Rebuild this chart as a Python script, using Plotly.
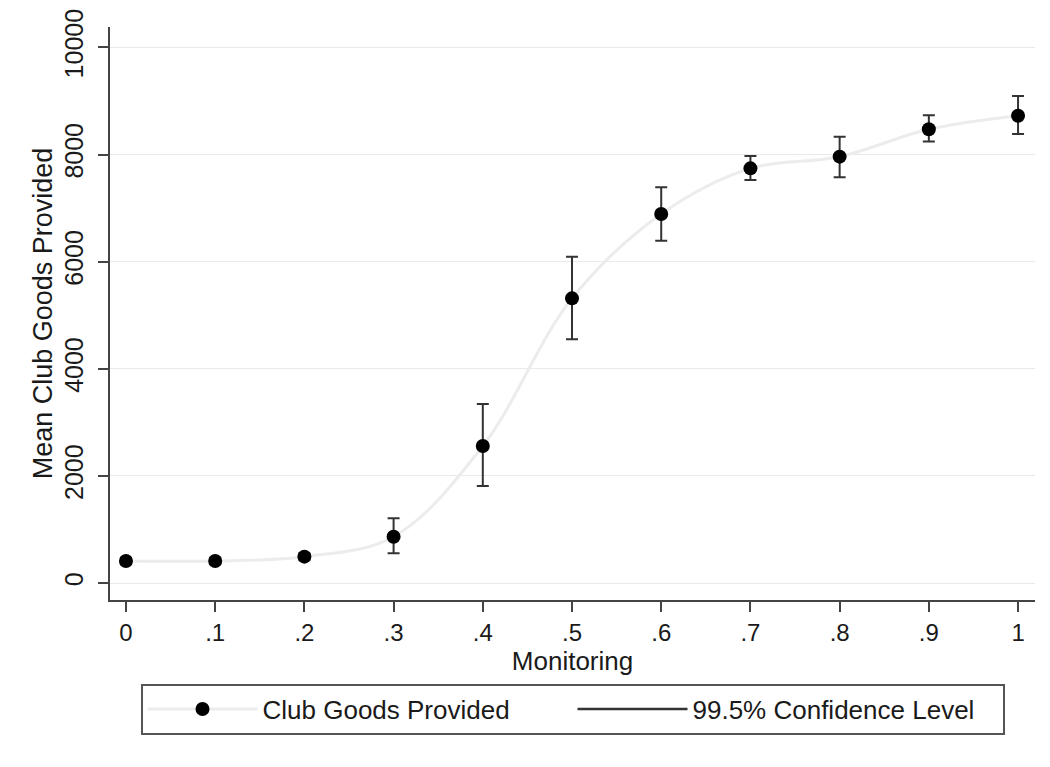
import plotly.graph_objects as go

# Monitoring level and mean club goods provided, with 99.5% confidence bounds
monitoring = [0, 0.1, 0.2, 0.3, 0.4, 0.5, 0.6, 0.7, 0.8, 0.9, 1.0]
mean_goods = [411, 411, 492, 865, 2558, 5315, 6890, 7742, 7960, 8471, 8725]
ci_low = [350, 350, 430, 554, 1811, 4550, 6391, 7524, 7575, 8242, 8383]
ci_high = [470, 470, 555, 1208, 3342, 6092, 7388, 7972, 8333, 8732, 9093]

x_ticks = [0, 0.1, 0.2, 0.3, 0.4, 0.5, 0.6, 0.7, 0.8, 0.9, 1.0]
x_tick_text = ["0", ".1", ".2", ".3", ".4", ".5", ".6", ".7", ".8", ".9", "1"]
y_ticks = [0, 2000, 4000, 6000, 8000, 10000]
y_tick_text = ["0", "2000", "4000", "6000", "8000", "10000"]

FONT = "Liberation Sans, Arial, sans-serif"
INK = "#1a1a1a"
ERR = "#333333"

err_plus = [h - m for h, m in zip(ci_high, mean_goods)]
err_minus = [m - l for m, l in zip(mean_goods, ci_low)]

fig = go.Figure()

fig.add_trace(go.Scatter(
    x=monitoring, y=mean_goods,
    mode="lines+markers",
    name="Club Goods Provided",
    line=dict(color="#ececec", width=3, shape="spline", smoothing=1.0),
    marker=dict(color="black", size=14),
    error_y=dict(type="data", symmetric=False, array=err_plus,
                 arrayminus=err_minus, color=ERR, thickness=2, width=6),
    legendrank=1,
))

# legend entry for the confidence interval bars
fig.add_trace(go.Scatter(
    x=[None], y=[None],
    mode="lines",
    name="99.5% Confidence Level",
    line=dict(color=ERR, width=2.5),
    legendrank=2,
))

fig.update_layout(
    width=1050, height=767,
    margin=dict(l=110, r=15, t=27, b=167, autoexpand=False),
    paper_bgcolor="white",
    plot_bgcolor="white",
    font=dict(family=FONT, color=INK, size=24),
    showlegend=True,
    legend=dict(
        orientation="h",
        x=0.5, xanchor="center",
        y=-0.146, yanchor="top",
        bordercolor="#555555", borderwidth=2,
        font=dict(size=26, color=INK),
        itemwidth=110,
        entrywidth=305,
        tracegroupgap=0,
    ),
)

fig.update_xaxes(
    range=[-0.0179, 1.019],
    tickmode="array", tickvals=x_ticks, ticktext=x_tick_text,
    ticks="outside", ticklen=10, tickwidth=1.5, tickcolor="#444444",
    showline=True, linecolor="#444444", linewidth=2,
    showgrid=False, zeroline=False,
    tickfont=dict(size=24, color=INK),
    title=dict(text="Monitoring", font=dict(size=26, color=INK), standoff=4),
)

fig.update_yaxes(
    range=[-317, 10381],
    tickmode="array", tickvals=y_ticks, ticktext=y_tick_text,
    tickangle=-90,
    ticks="outside", ticklen=10, tickwidth=1.5, tickcolor="#444444",
    showline=True, linecolor="#444444", linewidth=2,
    showgrid=True, gridcolor="#e9e9e9", gridwidth=1.2,
    zeroline=False,
    tickfont=dict(size=25, color=INK),
    ticklabelstandoff=5,
    title=dict(text="Mean Club Goods Provided", font=dict(size=27, color=INK), standoff=0),
)

fig.write_html("out.html")
